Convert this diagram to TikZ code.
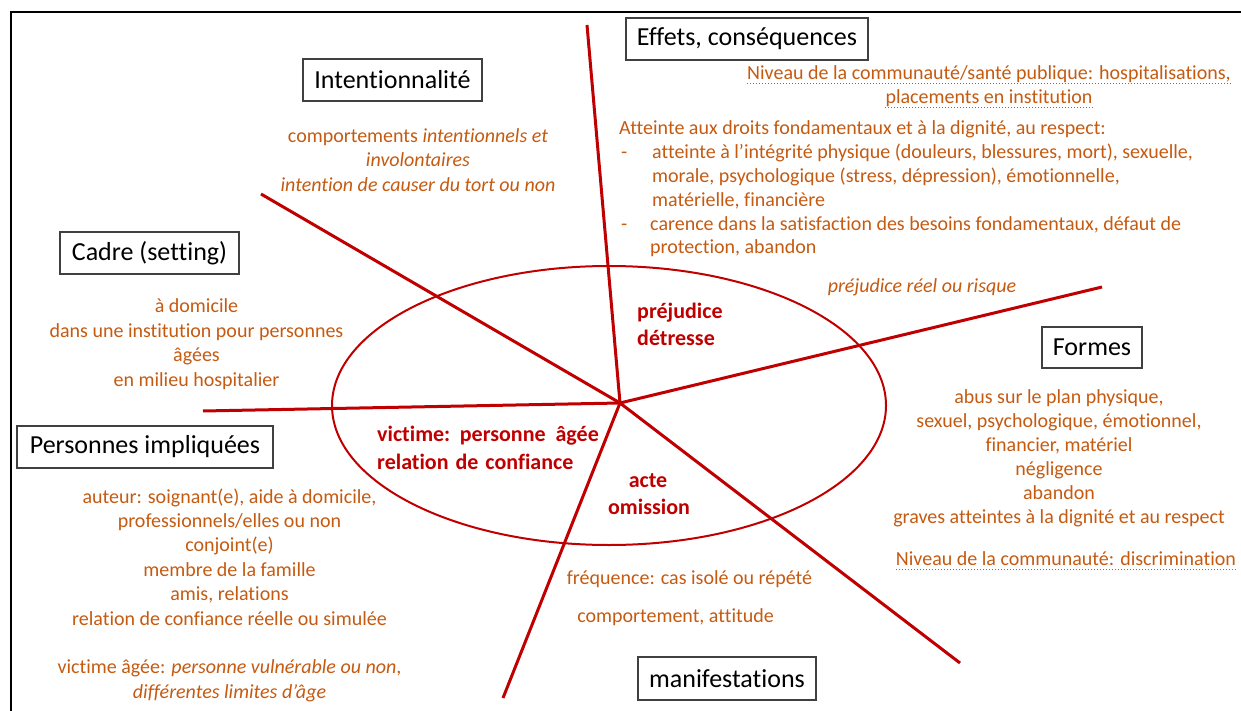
\documentclass[tikz,border=0pt]{standalone}
\usepackage{fontspec}
\setmainfont{Carlito}[Ligatures={NoCommon}]
\definecolor{org}{HTML}{C55A11}
\definecolor{dred}{HTML}{C00000}
\tikzset{
 otxt/.style={inner sep=0pt, text=org, font=\fontsize{20}{24}\selectfont, anchor=base},
 otxtl/.style={otxt, anchor=base west},
 rtxt/.style={inner sep=0pt, text=dred, font=\fontsize{22}{27}\selectfont\bfseries, anchor=base},
 rtxtl/.style={rtxt, anchor=base west},
 lbox/.style={draw=black!75, line width=1.1pt, inner sep=0pt, minimum height=42pt, font=\fontsize{26}{30}\selectfont, text=black},
 ray/.style={dred, line width=3pt},
 uline/.style={org, dotted, line width=1pt},
}
\begin{document}
\begin{tikzpicture}[x=1pt,y=-1pt]
\useasboundingbox (0,0) rectangle (1241,711);
% frame
\draw[line width=2pt] (11,711) -- (11,12) -- (1241,12);
% ellipse and rays
\draw[dred, line width=2pt] (609,405.5) ellipse [x radius=277pt, y radius=139.5pt];
\coordinate (C) at (620,403);
\coordinate (rT) at (587,25);
\coordinate (rUL) at (261,194);
\coordinate (rL) at (203,411);
\coordinate (rDL) at (503,698);
\coordinate (rDR) at (960,663);
\coordinate (rR) at (1102,287);
\foreach \e in {rT,rUL,rL,rDL,rDR,rR} \draw[ray] (C) -- (\e);
% boxes
\node[lbox, minimum width=179pt] (intent) at (392.5,80) {Intentionnalité};
\node[lbox, minimum width=242pt] (effets) at (747,39) {Effets, conséquences};
\node[lbox, minimum width=179pt] (cadre) at (149.5,253) {Cadre (setting)};
\node[lbox, minimum width=100pt, minimum height=41pt] (formes) at (1092,347.5) {Formes};
\node[lbox, minimum width=256pt] (pers) at (145,447) {Personnes impliquées};
\node[lbox, minimum width=178pt, minimum height=43pt] (manif) at (727,678.5) {manifestations};
% Intentionnalite text
\node[otxt] (i1) at (418,143) {comportements \textit{intentionnels et}};
\node[otxt] (i2) at (418,167) {\textit{involontaires}};
\node[otxt] (i3) at (418,192) {\textit{intention de causer du tort ou non}};
% Cadre text
\node[otxt] (c1) at (196.5,312) {à domicile};
\node[otxt] (c2) at (196.5,337) {dans une institution pour personnes};
\node[otxt] (c3) at (196.5,361) {âgées};
\node[otxt] (c4) at (196.5,386) {en milieu hospitalier};
% Personnes text
\node[otxt] (p1) at (229.5,503) {auteur: soignant(e), aide à domicile,};
\node[otxt] (p2) at (229.5,527.4) {professionnels/elles ou non};
\node[otxt] (p3) at (229.5,551.8) {conjoint(e)};
\node[otxt] (p4) at (229.5,576.2) {membre de la famille};
\node[otxt] (p5) at (229.5,600.6) {amis, relations};
\node[otxt] (p6) at (229.5,625) {relation de confiance réelle ou simulée};
\node[otxt] (p7) at (229.5,673.8) {victime âgée: \textit{personne vulnérable ou non},};
\node[otxt] (p8) at (229.5,698.2) {\textit{différentes limites d’âge}};
% Formes text
\node[otxt] (f1) at (1059,403) {abus sur le plan physique,};
\node[otxt] (f2) at (1059,427) {sexuel, psychologique, émotionnel,};
\node[otxt] (f3) at (1059,451) {financier, matériel};
\node[otxt] (f4) at (1059,475) {négligence};
\node[otxt] (f5) at (1059,499) {abandon};
\node[otxt] (f6) at (1059,523) {graves atteintes à la dignité et au respect};
\node[otxt] (f7) at (1066,565) {Niveau de la communauté: discrimination};
\draw[uline] ([yshift=-4pt]f7.base west) -- ([yshift=-4pt]f7.base east);
% Effets text
\node[otxt] (e1) at (989,80) {Niveau de la communauté/santé publique: hospitalisations,};
\node[otxt] (e2) at (989,104) {placements en institution};
\draw[uline] ([yshift=-4pt]e1.base west) -- ([yshift=-4pt]e1.base east);
\draw[uline] ([yshift=-4pt]e2.base west) -- ([yshift=-4pt]e2.base east);
\node[otxtl] (e3) at (619,135) {Atteinte aux droits fondamentaux et à la dignité, au respect:};
\node[otxtl] (d1) at (621,159) {-};
\node[otxtl] (e4) at (652,159) {atteinte à l’intégrité physique (douleurs, blessures, mort), sexuelle,};
\node[otxtl] (e5) at (652,183) {morale, psychologique (stress, dépression), émotionnelle,};
\node[otxtl] (e6) at (652,207) {matérielle, financière};
\node[otxtl] (d2) at (621,231) {-};
\node[otxtl] (e7) at (650,231) {carence dans la satisfaction des besoins fondamentaux, défaut de};
\node[otxtl] (e8) at (650,254) {protection, abandon};
\node[otxt] (pr) at (922,292) {\textit{préjudice réel ou risque}};
% manifestations text
\node[otxt] (m1) at (689.5,584) {fréquence: cas isolé ou répété};
\node[otxt] (m2) at (675.5,622) {comportement, attitude};
% red bold text in ellipse
\node[rtxtl] (r1) at (637,318) {préjudice};
\node[rtxtl] (r2) at (637,345) {détresse};
\node[rtxtl] (r3) at (377,441) {victime:\hspace{3pt} personne\hspace{5pt} âgée};
\node[rtxtl] (r4) at (377,469) {relation\hspace{2pt} de\hspace{2pt} confiance};
\node[rtxt] (r5) at (648,487) {acte};
\node[rtxt] (r6) at (649,514) {omission};
\end{tikzpicture}
\end{document}
